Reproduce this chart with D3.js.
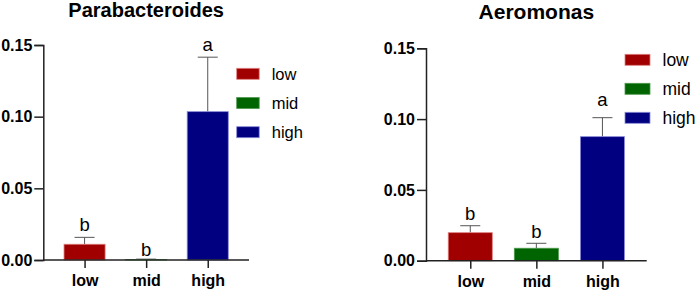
<!DOCTYPE html>
<html lang="en">
<head>
<meta charset="utf-8">
<title>abundance</title>
<script src="https://cdn.jsdelivr.net/npm/d3@7"></script>
<style>
  body { margin: 0; background: #fff; }
  text { font-family: "Liberation Sans", Arial, sans-serif; }
</style>
</head>
<body>
<svg width="699" height="293"></svg>
<script>
// groups and values
const groups = ["low", "mid", "high"];
const colors = ["#a00000", "#006400", "#000080"];
const edges = ["#e08080", "#4f9a4f", "#8a8ad8"];
const yTicks = [0, 0.05, 0.10, 0.15];

const paraMean = [0.011, 0.0003, 0.1035];
const paraErr = [0.0048, 0.0003, 0.038];
const paraLetters = ["b", "b", "a"];
const paraLetterY = [0.0202, 0.0028, 0.146];

const aeroMean = [0.0198, 0.0088, 0.0876];
const aeroErr = [0.0049, 0.0035, 0.0134];
const aeroLetters = ["b", "b", "a"];
const aeroLetterY = [0.0287, 0.0158, 0.109];

const svg = d3.select("svg");

function panel(opt) {
  const g = svg.append("g");
  const x = d3.scalePoint().domain(groups).range([opt.x0, opt.x1]).padding(0.67);
  const y = d3.scaleLinear().domain([0, 0.15]).range([opt.y0, opt.y1]);
  const bw = x.step() * 0.667;

  // title
  g.append("text")
    .attr("x", (opt.x0 + opt.x1) / 2)
    .attr("y", opt.titleY)
    .attr("text-anchor", "middle")
    .attr("font-size", opt.titleSize)
    .attr("font-weight", "bold")
    .text(opt.title);

  // error bars (upper only)
  const eb = g.selectAll("g.err").data(groups).enter().append("g");
  eb.append("line")
    .attr("x1", d => x(d)).attr("x2", d => x(d))
    .attr("y1", (d, i) => y(opt.mean[i]))
    .attr("y2", (d, i) => y(opt.mean[i] + opt.err[i]))
    .attr("stroke", "#555").attr("stroke-width", 1);
  eb.append("line")
    .attr("x1", d => x(d) - 10).attr("x2", d => x(d) + 10)
    .attr("y1", (d, i) => y(opt.mean[i] + opt.err[i]))
    .attr("y2", (d, i) => y(opt.mean[i] + opt.err[i]))
    .attr("stroke", "#555").attr("stroke-width", 1);

  // bars
  g.selectAll("rect.bar").data(groups).enter().append("rect")
    .attr("x", d => x(d) - bw / 2)
    .attr("width", bw)
    .attr("y", (d, i) => y(opt.mean[i]))
    .attr("height", (d, i) => y(0) - y(opt.mean[i]))
    .attr("fill", (d, i) => colors[i])
    .attr("stroke", (d, i) => edges[i])
    .attr("stroke-width", 0.8);

  // significance letters
  g.selectAll("text.sig").data(groups).enter().append("text")
    .attr("x", d => x(d))
    .attr("y", (d, i) => y(opt.letterY[i]))
    .attr("text-anchor", "middle")
    .attr("font-size", opt.letterSize)
    .text((d, i) => opt.letters[i]);

  // axes
  const ax = g.append("g")
    .attr("transform", "translate(0," + opt.y0 + ")")
    .call(d3.axisBottom(x).tickSizeOuter(0).tickSize(8).tickPadding(7));
  ax.select(".domain").attr("d", "M" + opt.x0 + ",0H" + opt.x1);
  const ay = g.append("g")
    .attr("transform", "translate(" + opt.x0 + ",0)")
    .call(d3.axisLeft(y).tickValues(yTicks).tickFormat(d3.format(".2f"))
      .tickSizeOuter(0).tickSize(9).tickPadding(2));
  [ax, ay].forEach(a => {
    a.selectAll("path, line").attr("stroke", "#222").attr("stroke-width", 1.5);
    a.selectAll("text").attr("font-size", 16).attr("font-weight", "bold")
      .attr("fill", "#000").style("font-family", "'Liberation Sans', Arial, sans-serif");
  });

  // legend
  const lg = g.selectAll("g.leg").data(groups).enter().append("g")
    .attr("transform", (d, i) => "translate(" + opt.legX + "," + (opt.legY + i * opt.legStep) + ")");
  lg.append("rect")
    .attr("width", opt.swW).attr("height", 11)
    .attr("fill", (d, i) => colors[i])
    .attr("stroke", (d, i) => edges[i]).attr("stroke-width", 0.8);
  lg.append("text")
    .attr("x", opt.swW + 12.5)
    .attr("y", 11.5)
    .attr("font-size", opt.legSize)
    .text(d => d);
}

panel({
  title: "Parabacteroides", titleY: 17, titleSize: 20,
  x0: 43.3, x1: 249, y0: 260, y1: 45,
  mean: paraMean, err: paraErr, letters: paraLetters, letterY: paraLetterY, letterSize: 18.5,
  legX: 236.7, legY: 68.3, legStep: 29.2, swW: 22.5, legSize: 16.5
});

panel({
  title: "Aeromonas", titleY: 19, titleSize: 21,
  x0: 426, x1: 646.7, y0: 260.7, y1: 48.3,
  mean: aeroMean, err: aeroErr, letters: aeroLetters, letterY: aeroLetterY, letterSize: 18.5,
  legX: 625, legY: 54.3, legStep: 29, swW: 25, legSize: 17.5
});
</script>
</body>
</html>
